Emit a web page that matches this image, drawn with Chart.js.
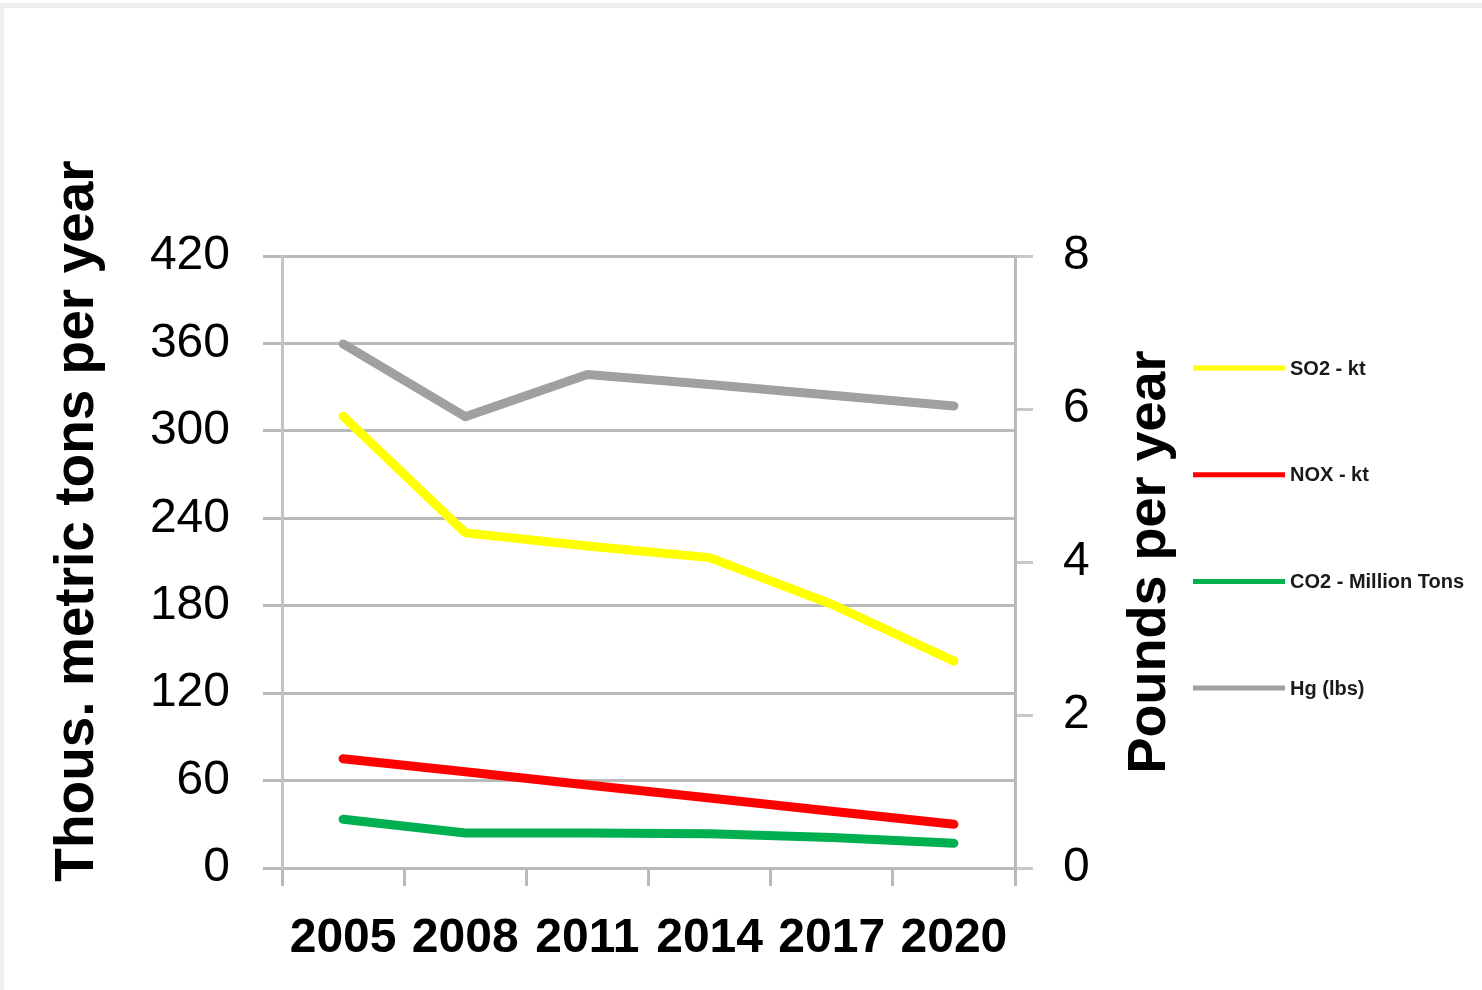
<!DOCTYPE html>
<html>
<head>
<meta charset="utf-8">
<title>Emissions 2005–2020</title>
<script src="https://cdn.jsdelivr.net/npm/chart.js@4/dist/chart.umd.min.js"></script>
<style>
  html, body { margin: 0; padding: 0; background: #ffffff; }
  #wrap { position: relative; width: 1482px; height: 990px; }
  canvas { display: block; }
</style>
</head>
<body>
<div id="wrap"><canvas id="chart" width="1482" height="990"></canvas></div>
<script>
// Years on the category axis
const years = ['2005', '2008', '2011', '2014', '2017', '2020'];

// Series on the left axis (thousand metric tons per year)
const so2 = [310, 230, 221, 213, 181, 142];
const nox = [75, 66, 57, 48, 39, 30];
const co2 = [33.5, 24, 24, 23.5, 21, 17];

// Series on the right axis (pounds per year)
const hg = [6.85, 5.9, 6.45, 6.32, 6.18, 6.04];

// Legend and axis titles
const seriesNames = ['SO2 - kt', 'NOX - kt', 'CO2 - Million Tons', 'Hg (lbs)'];
const leftTitle = 'Thous. metric tons per year';
const rightTitle = 'Pounds per year';

const FONT = "'Liberation Sans', Arial, sans-serif";
Chart.defaults.font.family = FONT;
Chart.defaults.color = '#000000';

const GRID = '#bababa';

function lineSet(label, data, color, axis) {
  return {
    label, data, yAxisID: axis,
    borderColor: color, backgroundColor: color,
    borderWidth: 9, borderCapStyle: 'round', borderJoinStyle: 'round',
    pointRadius: 0, pointHoverRadius: 0, tension: 0, fill: false
  };
}

// Draws the page frame, both rotated axis titles and the legend column
const decorations = {
  id: 'decorations',
  beforeDraw(chart) {
    const ctx = chart.ctx;
    ctx.save();
    ctx.fillStyle = '#ffffff';
    ctx.fillRect(0, 0, chart.width, chart.height);
    ctx.fillStyle = '#efefef';
    ctx.fillRect(0, 3, chart.width, 5);
    ctx.fillRect(0, 3, 4, chart.height - 3);
    ctx.restore();
  },
  afterDraw(chart) {
    const ctx = chart.ctx;
    const area = chart.chartArea;
    ctx.save();
    ctx.fillStyle = '#000000';
    ctx.font = 'bold 55px ' + FONT;
    ctx.textAlign = 'center';
    ctx.textBaseline = 'alphabetic';

    // left title, reading upward
    ctx.save();
    ctx.translate(93, 521);
    ctx.rotate(-Math.PI / 2);
    ctx.fillText(leftTitle, 0, 0);
    ctx.restore();

    // right title, reading upward
    ctx.font = 'bold 54px ' + FONT;
    ctx.save();
    ctx.translate(1165, (area.top + area.bottom) / 2);
    ctx.rotate(-Math.PI / 2);
    ctx.fillText(rightTitle, 0, 0);
    ctx.restore();

    // legend column
    const ds = chart.data.datasets;
    const x0 = area.right + 178;
    ctx.font = 'bold 20px ' + FONT;
    ctx.textAlign = 'left';
    ctx.textBaseline = 'middle';
    ds.forEach((d, i) => {
      const y = area.top + 112 + i * 106.7;
      ctx.strokeStyle = d.borderColor;
      ctx.lineWidth = 5;
      ctx.beginPath();
      ctx.moveTo(x0, y);
      ctx.lineTo(x0 + 92, y);
      ctx.stroke();
      ctx.fillStyle = '#1a1a1a';
      ctx.fillText(d.label, x0 + 97, y + 1);
    });
    ctx.restore();
  }
};

new Chart(document.getElementById('chart'), {
  type: 'line',
  data: {
    labels: years,
    datasets: [
      lineSet(seriesNames[0], so2, '#ffff00', 'y'),
      lineSet(seriesNames[1], nox, '#ff0000', 'y'),
      lineSet(seriesNames[2], co2, '#00b050', 'y'),
      lineSet(seriesNames[3], hg, '#a0a0a0', 'y1')
    ]
  },
  options: {
    responsive: false,
    animation: false,
    devicePixelRatio: 1,
    layout: { padding: { top: 256, left: 0, right: 0, bottom: 0 } },
    plugins: {
      legend: { display: false },
      tooltip: { enabled: false },
      title: { display: false }
    },
    scales: {
      x: {
        type: 'category',
        offset: true,
        grid: {
          offset: true, drawOnChartArea: false, drawTicks: true,
          tickLength: 18, color: GRID, lineWidth: 3
        },
        border: { display: true, color: GRID, width: 3 },
        ticks: { font: { size: 48, weight: 'bold' }, padding: 24, maxRotation: 0, autoSkip: false },
        afterFit(scale) { scale.height = 122; }
      },
      y: {
        position: 'left',
        min: 0, max: 420,
        grid: { color: GRID, lineWidth: 3, tickLength: 19, drawTicks: true },
        border: { display: true, color: '#c4c4c4', width: 3 },
        ticks: { stepSize: 60, font: { size: 48 }, padding: 33 },
        afterFit(scale) { scale.width = 282; }
      },
      y1: {
        position: 'right',
        min: 0, max: 8,
        grid: { drawOnChartArea: false, color: '#c8c8c8', lineWidth: 3, tickLength: 18 },
        border: { display: true, color: GRID, width: 3 },
        ticks: { stepSize: 2, font: { size: 48 }, padding: 30 },
        afterFit(scale) { scale.width = 1482 - 1015; }
      }
    }
  },
  plugins: [decorations]
});
</script>
</body>
</html>
